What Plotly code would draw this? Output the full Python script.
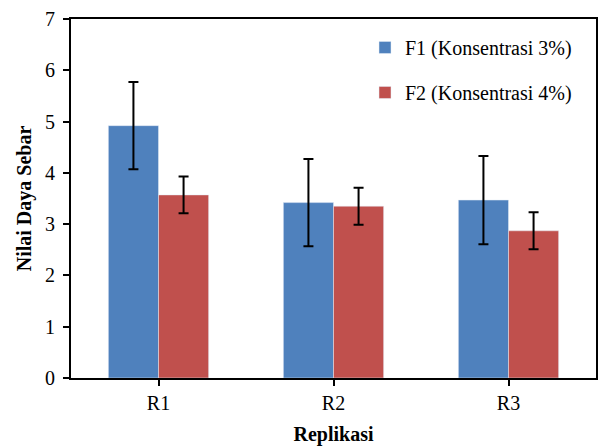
import plotly.graph_objects as go

categories = ["R1", "R2", "R3"]
f1_values = [4.92, 3.42, 3.47]
f1_errors = [0.85, 0.85, 0.86]
f2_values = [3.57, 3.35, 2.87]
f2_errors = [0.36, 0.36, 0.36]
series_names = ["F1 (Konsentrasi 3%)", "F2 (Konsentrasi 4%)"]

FONT = "Liberation Serif"
FS = 20

fig = go.Figure()
fig.add_trace(go.Bar(
    x=categories, y=f1_values, name=series_names[0],
    marker=dict(color="#4F81BD"), legendgroup="a",
    error_y=dict(type="data", array=f1_errors, visible=True,
                 color="black", thickness=2, width=5),
))
fig.add_trace(go.Bar(
    x=categories, y=f2_values, name=series_names[1],
    marker=dict(color="#C0504D"), legendgroup="b",
    error_y=dict(type="data", array=f2_errors, visible=True,
                 color="black", thickness=2, width=5),
))

fig.update_layout(
    width=601, height=447,
    margin=dict(l=71, r=3, t=19, b=69),
    paper_bgcolor="white", plot_bgcolor="white",
    barmode="group", bargap=0.427, bargroupgap=0,
    font=dict(family=FONT, size=FS, color="black"),
    showlegend=True,
    legend=dict(x=0.56, y=0.975, xanchor="left", yanchor="top",
                bgcolor="rgba(0,0,0,0)", font=dict(family=FONT, size=FS),
                tracegroupgap=16, itemwidth=30,
                traceorder="grouped"),
)
fig.update_xaxes(
    showline=True, linecolor="black", linewidth=2, mirror=True,
    ticks="outside", ticklen=6, tickwidth=2, tickcolor="black",
    title=dict(text="<b>Replikasi</b>", font=dict(family=FONT, size=FS), standoff=14),
    tickfont=dict(family=FONT, size=FS),
)
fig.update_yaxes(
    range=[0, 7], dtick=1, showgrid=False, zeroline=False,
    showline=True, linecolor="black", linewidth=2, mirror=True,
    ticks="outside", ticklen=6, tickwidth=2, tickcolor="black",
    ticklabelstandoff=4,
    title=dict(text="<b>Nilai Daya Sebar</b>", font=dict(family=FONT, size=FS), standoff=8),
    tickfont=dict(family=FONT, size=FS),
)

fig.write_html("out.html")
